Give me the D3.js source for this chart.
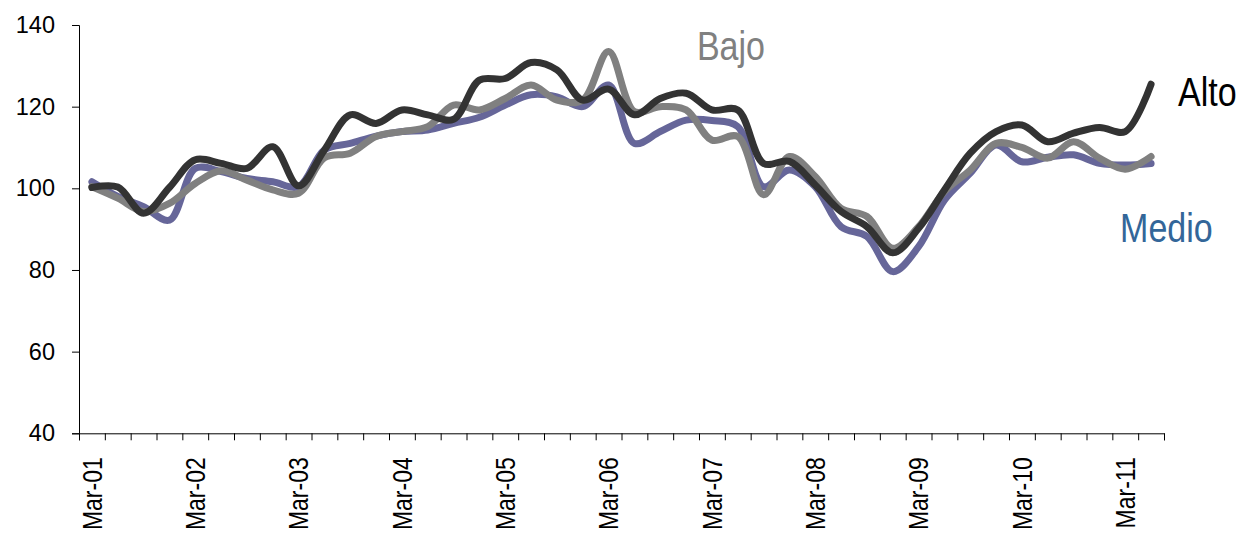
<!DOCTYPE html>
<html>
<head>
<meta charset="utf-8">
<script src="https://cdn.jsdelivr.net/npm/d3@7"></script>
<style>
  body { margin: 0; background: #fff; }
  svg { display: block; font-family: "Liberation Sans", Arial, sans-serif; }
</style>
</head>
<body>
<div id="chart"></div>
<script>
// quarterly categories, Mar-01 .. Jun-11
const categories = [
  "Mar-01","Jun-01","Sep-01","Dec-01","Mar-02","Jun-02","Sep-02","Dec-02",
  "Mar-03","Jun-03","Sep-03","Dec-03","Mar-04","Jun-04","Sep-04","Dec-04",
  "Mar-05","Jun-05","Sep-05","Dec-05","Mar-06","Jun-06","Sep-06","Dec-06",
  "Mar-07","Jun-07","Sep-07","Dec-07","Mar-08","Jun-08","Sep-08","Dec-08",
  "Mar-09","Jun-09","Sep-09","Dec-09","Mar-10","Jun-10","Sep-10","Dec-10",
  "Mar-11","Jun-11"
];

const alto = [
  100.2, 100.3, 93.9, 100.2, 107.0, 106.1, 104.9, 110.2, 100.6, 109.4,
  118.0, 115.9, 119.2, 118.0, 116.9, 126.5, 126.9, 130.8, 129.0, 121.6,
  124.3, 118.0, 122.0, 123.3, 119.2, 119.2, 106.1, 106.6, 100.8, 94.3,
  90.6, 84.2, 90.2, 99.6, 108.6, 113.9, 115.5, 111.4, 113.5, 114.9,
  113.9, 125.5
];

const bajo = [
  100.4, 97.6, 94.3, 96.3, 101.2, 104.3, 102.0, 99.6, 98.8, 107.5,
  108.6, 112.7, 113.9, 115.1, 120.4, 119.2, 122.0, 125.3, 121.6, 121.6,
  133.5, 118.8, 120.0, 119.2, 111.8, 112.7, 98.4, 107.8, 102.9, 95.1,
  93.1, 85.3, 90.6, 99.2, 104.5, 111.0, 110.0, 107.4, 111.4, 107.4,
  104.7, 107.8
];

const medio = [
  101.6, 98.0, 95.5, 92.2, 104.9, 104.1, 102.4, 101.6, 100.4, 109.4,
  111.0, 112.8, 113.9, 114.3, 115.9, 117.4, 120.4, 122.9, 122.4, 120.0,
  125.3, 111.0, 113.9, 116.7, 116.6, 115.1, 100.4, 104.5, 100.4, 90.6,
  88.2, 79.6, 85.7, 97.1, 103.7, 110.6, 106.5, 107.6, 108.2, 106.1,
  105.7, 106.1
];

const yTicks = [40, 60, 80, 100, 120, 140];

const width = 1242, height = 536;
const plotLeft = 79, plotRight = 1164, plotTop = 25, plotBottom = 433.3;

const svg = d3.select('#chart').append('svg')
  .attr('width', width)
  .attr('height', height);

// band scale for categories, linear one for the tick marks between them
const x = d3.scaleBand().domain(categories).range([plotLeft, plotRight]).padding(0);
const xEdge = d3.scaleLinear().domain([0, categories.length]).range([plotLeft, plotRight]);
const y = d3.scaleLinear().domain([40, 140]).range([plotBottom, plotTop]);

const xc = i => x(categories[i]) + x.bandwidth() / 2;

// y axis
const yAxis = svg.append('g')
  .attr('transform', `translate(${plotLeft},0)`)
  .call(d3.axisLeft(y).tickValues(yTicks).tickSize(7).tickPadding(17));
yAxis.select('.domain').attr('stroke', '#000');
yAxis.selectAll('.tick line').attr('stroke', '#000');
yAxis.selectAll('text')
  .attr('font-size', '23.5px')
  .attr('font-family', '"Liberation Sans", Arial, sans-serif')
  .attr('fill', '#000');

// x axis tick marks (between categories)
const xTicks = svg.append('g')
  .attr('transform', `translate(0,${plotBottom})`)
  .call(d3.axisBottom(xEdge).tickValues(d3.range(categories.length + 1))
    .tickSize(7).tickFormat(''));
xTicks.select('.domain').attr('stroke', '#000');
xTicks.selectAll('.tick line').attr('stroke', '#000');

// x labels, every fourth category, rotated (glyphs a bit stretched like the original)
const xLabels = svg.append('g')
  .attr('transform', `translate(0,${plotBottom})`)
  .call(d3.axisBottom(x).tickValues(categories.filter((d, i) => i % 4 === 0))
    .tickSize(0));
xLabels.select('.domain').remove();
xLabels.selectAll('text')
  .attr('font-size', '23px')
  .attr('font-family', '"Liberation Sans", Arial, sans-serif')
  .attr('fill', '#000')
  .attr('transform', 'rotate(-90) scale(1,1.2)')
  .attr('x', -24)
  .attr('y', 0)
  .attr('dy', '0.35em')
  .style('text-anchor', 'end');

// lines
const line = d3.line()
  .x((d, i) => xc(i))
  .y(d => y(d))
  .curve(d3.curveCatmullRom.alpha(0.5));

const series = [
  { name: 'Medio', values: medio, color: '#666699' },
  { name: 'Bajo', values: bajo, color: '#808080' },
  { name: 'Alto', values: alto, color: '#333333' }
];

svg.selectAll('.series')
  .data(series)
  .enter()
  .append('path')
  .attr('class', 'series')
  .attr('d', d => line(d.values))
  .attr('fill', 'none')
  .attr('stroke', d => d.color)
  .attr('stroke-width', 7)
  .attr('stroke-linejoin', 'round')
  .attr('stroke-linecap', 'round');

// series labels, narrow lettering
const labels = [
  { text: 'Bajo', color: '#808080', pos: 23.42, val: 131.4 },
  { text: 'Alto', color: '#000000', pos: 42.04, val: 120.2 },
  { text: 'Medio', color: '#336699', pos: 39.8, val: 86.9 }
];
svg.selectAll('.series-label')
  .data(labels)
  .enter()
  .append('text')
  .attr('class', 'series-label')
  .attr('transform', d => `translate(${xEdge(d.pos + 0.5)},${y(d.val)}) scale(0.83,1)`)
  .attr('font-size', '41px')
  .attr('font-family', '"Liberation Sans", Arial, sans-serif')
  .attr('fill', d => d.color)
  .text(d => d.text);
</script>
</body>
</html>
